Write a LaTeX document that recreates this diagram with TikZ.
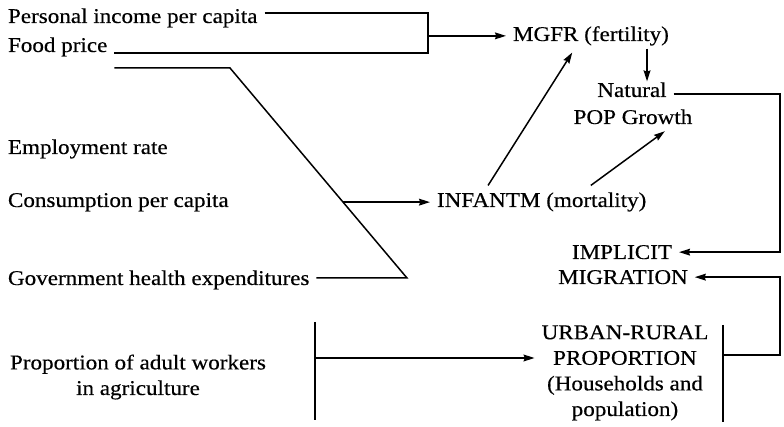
\documentclass[tikz,border=0pt]{standalone}
\usepackage{fontspec}
\setmainfont{Liberation Serif}[FakeStretch=1.1, FakeBold=0.4]
\usetikzlibrary{arrows.meta,calc}

\tikzstyle{factor_label}=[inner sep=0pt,
                          outer sep=3.5pt,
                          font=\fontsize{10.5}{12.8}\selectfont, ]
\tikzstyle{block_label}=[factor_label,
                         align=center, ]
\tikzstyle{link}=[line width=0.75pt]
\tikzstyle{link_arrow}=[link,
                        -{Stealth[length=5.5pt, width=3.4pt, inset=0.6pt]}, ]

\begin{document}
\begin{tikzpicture}[x=0.5pt, y=-0.5pt]
  \useasboundingbox (0,0) rectangle (784,427);

  % Determinants
  % -------------------------------------------------------------
  \foreach \n/\y/\t in {income/23/Personal income per capita, food/52/Food price, employ/154/Employment rate, consum/207/Consumption per capita, health/285/Government health expenditures} {
      \node at (1, \y) (\n) [factor_label, anchor=base west] {\t};
    }
  \node at (138, 395) (workers) [block_label, anchor=base] {Proportion of adult workers\\in agriculture};

  % Demographic outcomes
  % -------------------------------------------------------------
  \node at (506, 41) (mgfr) [factor_label, anchor=base west] {MGFR (fertility)};
  \node at (632, 97) (natural) [factor_label, anchor=base] {Natural};
  \node at (633, 124) (growth) [factor_label, anchor=base] {POP Growth};
  \node at (430, 207) (infant) [factor_label, anchor=base west] {INFANTM (mortality)};
  \node at (622, 259) (implicit) [factor_label, anchor=base] {IMPLICIT};
  \node at (623, 284) (migration) [factor_label, anchor=base] {MIGRATION};
  \node at (625, 416) (urban) [block_label, anchor=base] {URBAN-RURAL\\PROPORTION\\(Households and\\population)};

  % Links
  % -------------------------------------------------------------
  \coordinate (bracket_top) at (428, 13);
  \coordinate (bracket_bot) at (428, 53);
  \draw[link] (income.east |- bracket_top) -- (bracket_top) -- (bracket_bot) -- (food.east |- bracket_bot);
  \draw[link_arrow] (bracket_top |- mgfr.west) -- (mgfr.west);

  \coordinate (knee_top) at (230, 68);
  \coordinate (knee_bot) at (407, 278);
  \draw[link] (food.east |- knee_top) -- (knee_top) -- (knee_bot) -- (health.east |- knee_bot);
  \coordinate (tap) at (intersection of knee_top--knee_bot and infant.west--consum.east);
  \draw[link_arrow] (tap) -- (tap -| infant.west);

  \draw[link_arrow] ($(infant.north west)!0.26!(infant.north east)$) -- ($(mgfr.south west)!0.39!(mgfr.south east)$);
  \draw[link_arrow] ($(infant.north west)!0.72!(infant.north east)$) -- ($(growth.south west)!0.74!(growth.south east)$);
  \coordinate (fert_down) at ($(mgfr.south west)!0.83!(mgfr.south east)$);
  \draw[link_arrow, shorten <=-2pt, shorten >=-3pt] (fert_down) -- (fert_down |- natural.north);

  \coordinate (rail_top) at (780, 95);
  \draw[link_arrow] ([yshift=-2pt]natural.east) -- ([yshift=-2pt]natural.east -| rail_top) -- (rail_top |- implicit.east) -- (implicit.east);

  \coordinate (bar_right_top) at (723, 325);
  \coordinate (bar_right_bot) at (723, 422);
  \coordinate (bar_right) at (723, 355);
  \draw[link] (bar_right_top) -- (bar_right_bot);
  \draw[link_arrow] (bar_right) -- (bar_right -| rail_top) -- (rail_top |- migration.east) -- (migration.east);

  \coordinate (bar_left_top) at (315, 322);
  \coordinate (bar_left_bot) at (315, 420);
  \coordinate (bar_left) at (315, 358);
  \draw[link] (bar_left_top) -- (bar_left_bot);
  \draw[link_arrow] (bar_left) -- (bar_left -| urban.west);
\end{tikzpicture}
\end{document}
